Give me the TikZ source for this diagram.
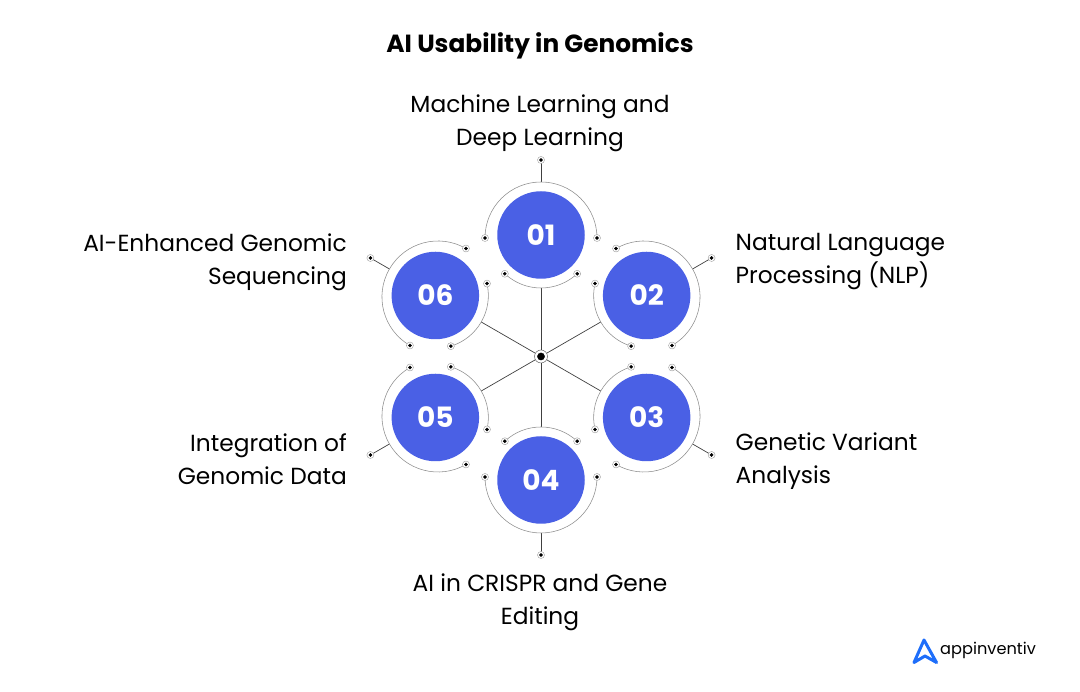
\documentclass[tikz,border=0pt]{standalone}
\usepackage{fontspec}
\setmainfont{Poppins}
\definecolor{discblue}{RGB}{74,96,229}
\definecolor{logoblue}{RGB}{30,110,250}
\tikzset{
    disc/.style={circle, fill=discblue, text=white, minimum size=87.5pt, inner sep=0pt, font=\fontsize{28}{28}\selectfont\bfseries},
    ringarc/.style={draw=black!45, line width=0.55pt},
    spoke/.style={draw=black!75, line width=0.7pt},
    dotring/.style={circle, draw=black!40, fill=white, line width=0.4pt, minimum size=7pt, inner sep=0pt},
    labeltext/.style={font=\fontsize{23.3}{33}\selectfont, inner sep=0pt},
}
\newcommand{\termdot}[1]{
    \node[dotring] (#1d) at (#1) {};
    \filldraw[black] (#1) circle (1.6);
}
\begin{document}
\begin{tikzpicture}[x=1pt,y=1pt]
    \useasboundingbox (0,0) rectangle (1080,692);

    \node[font=\fontsize{24.8}{28}\selectfont\bfseries, inner sep=0pt] (title) at (540,646) {AI Usability in Genomics};

    % hub and the six discs
    \node[circle, draw=black!60, fill=white, line width=0.5pt, minimum size=13pt, inner sep=0pt] (hub) at (541,335.5) {};
    \foreach \num/\ang/\dist in {01/90/121.5,02/30/122,03/-30/122,04/-90/123.5,05/-150/122,06/150/122} {
        \path (hub.center) ++(\ang:\dist) node[disc] (c\num) {\num};
        \path (c\num.center) ++({\ang+180}:53) coordinate (s\num);
        \path (c\num.center) ++(\ang:53) coordinate (t\num);
        \path (c\num.center) ++(\ang:75) coordinate (e\num);
        \draw[spoke] (hub) -- (s\num);
        \draw[spoke] (t\num) -- (e\num);
        % outer half ring
        \path (c\num.center) ++({\ang+180}:3) ++({\ang+90}:56) coordinate (a\num);
        \draw[ringarc] (a\num) arc[start angle=\ang+90, end angle=\ang-90, radius=56pt] coordinate (b\num);
        % inner short ring
        \path (c\num.center) ++({\ang+137}:53) coordinate (p\num);
        \draw[ringarc] (p\num) arc[start angle=\ang+137, end angle=\ang+223, radius=53pt] coordinate (q\num);
        \termdot{a\num}
        \termdot{b\num}
        \termdot{p\num}
        \termdot{q\num}
        \termdot{e\num}
    }
    \filldraw[black] (hub.center) circle (3.6);

    \node[labeltext, align=center] (lab01) at (540,569) {Machine Learning and\\Deep Learning};
    \node[labeltext, align=left, anchor=west] (lab02) at (735.5,430) {Natural Language\\Processing (NLP)};
    \node[labeltext, align=left, anchor=west] (lab03) at (735.5,231) {Genetic Variant\\Analysis};
    \node[labeltext, align=center] (lab04) at (540,90) {AI in CRISPR and Gene\\Editing};
    \node[labeltext, align=right, anchor=east] (lab05) at (347,232.5) {Integration of\\Genomic Data};
    \node[labeltext, align=right, anchor=east] (lab06) at (347,430) {AI-Enhanced Genomic\\Sequencing};

    % logo
    \draw[logoblue, line width=3pt, line join=round, line cap=round] (936.5,29.5) -- (924,52) -- (914,29.5) -- (925,36) -- (936.5,29.5);
    \node[font=\fontsize{16.2}{20}\selectfont, inner sep=0pt, anchor=west] (logo) at (940,42) {appinventiv};
\end{tikzpicture}
\end{document}
